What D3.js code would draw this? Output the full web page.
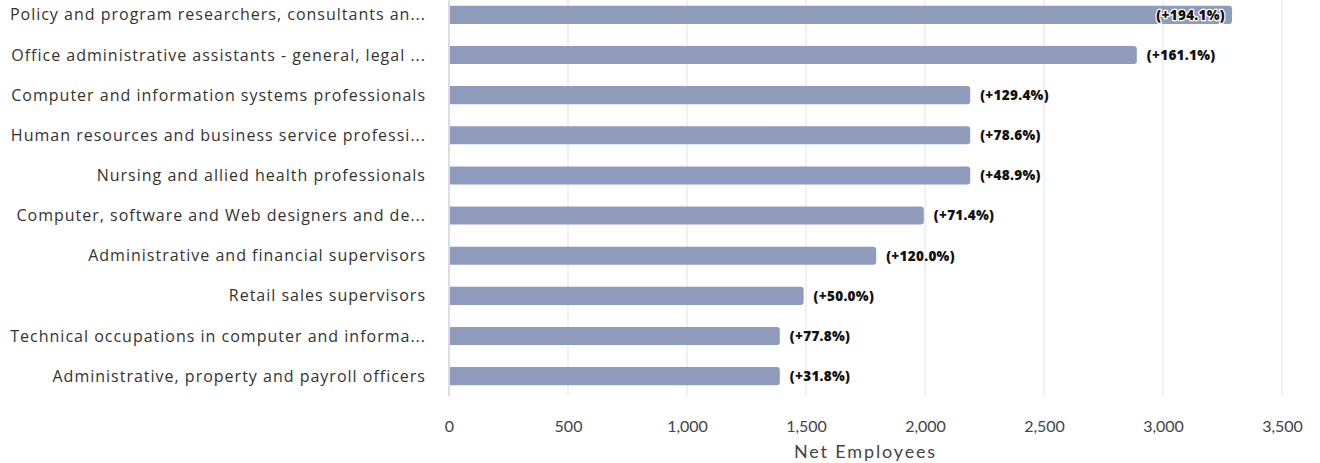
<!DOCTYPE html>
<html><head><meta charset="utf-8">
<script src="https://cdn.jsdelivr.net/npm/d3@7"></script>
<style>body{margin:0;background:#fff}svg{display:block}</style>
</head><body>
<svg id="c" width="1320" height="463"></svg>
<script>
const categories = [
  "Policy and program researchers, consultants an...",
  "Office administrative assistants - general, legal ...",
  "Computer and information systems professionals",
  "Human resources and business service professi...",
  "Nursing and allied health professionals",
  "Computer, software and Web designers and de...",
  "Administrative and financial supervisors",
  "Retail sales supervisors",
  "Technical occupations in computer and informa...",
  "Administrative, property and payroll officers"
];
const values = [3290, 2890, 2190, 2190, 2190, 1995, 1795, 1490, 1390, 1390];
const pctLabels = ["(+194.1%)","(+161.1%)","(+129.4%)","(+78.6%)","(+48.9%)","(+71.4%)","(+120.0%)","(+50.0%)","(+77.8%)","(+31.8%)"];
const tickValues = [0, 500, 1000, 1500, 2000, 2500, 3000, 3500];
const axisTitle = "Net Employees";

const svg = d3.select("#c");
const x = d3.scaleLinear().domain([0, 3500]).range([449, 1282]);
const y = d3.scaleBand().domain(categories).range([-5, 396]).paddingInner(0.55).paddingOuter(0.27);

// gridlines
svg.append("g").selectAll("line").data(tickValues).join("line")
  .attr("x1", d => x(d)).attr("x2", d => x(d))
  .attr("y1", 0).attr("y2", 396)
  .attr("stroke", d => d === 0 ? "#dedbe8" : "#e8e8e8")
  .attr("stroke-width", d => d === 0 ? 2 : 1.2);

// bars with rounded right end
const r = 3;
svg.append("g").selectAll("path").data(values).join("path")
  .attr("d", (d, i) => {
    const x0 = x(0) + 1, x1 = x(d), y0 = y(categories[i]), h = y.bandwidth();
    return `M${x0},${y0}H${x1 - r}Q${x1},${y0} ${x1},${y0 + r}V${y0 + h - r}Q${x1},${y0 + h} ${x1 - r},${y0 + h}H${x0}Z`;
  })
  .attr("fill", "#8f9cbb");

// category labels
const cl = svg.append("g").selectAll("text").data(categories).join("text")
  .attr("x", 426).attr("y", d => y(d) + y.bandwidth() / 2)
  .attr("dy", "0.35em").attr("text-anchor", "end")
  .attr("font-family", "'Open Sans', sans-serif").attr("font-size", 16)
  .attr("fill", "#333").text(d => d);
const w0 = cl.node().getComputedTextLength();
const ls = Math.max(0, (416 - w0) / categories[0].length);
cl.attr("letter-spacing", ls.toFixed(2));

// value labels
svg.append("g").selectAll("text").data(values).join("text")
  .attr("y", (d, i) => y(categories[i]) + y.bandwidth() / 2)
  .attr("dy", "0.36em")
  .attr("font-family", "'Open Sans', sans-serif").attr("font-weight", 800)
  .attr("font-size", 13.5).attr("letter-spacing", 0.3).attr("fill", "#111")
  .attr("x", (d, i) => i === 0 ? x(d) - 7 : x(d) + 10)
  .attr("text-anchor", (d, i) => i === 0 ? "end" : "start")
  .attr("paint-order", "stroke").attr("stroke", (d, i) => i === 0 ? "#fff" : "none")
  .attr("stroke-width", 2.5).attr("stroke-linejoin", "round")
  .text((d, i) => pctLabels[i]);

// x axis tick labels
const axis = d3.axisBottom(x).tickValues(tickValues).tickSize(0).tickPadding(0).tickFormat(d3.format(","));
const ag = svg.append("g").attr("transform", "translate(0,421)").call(axis);
ag.select(".domain").remove();
ag.selectAll("text").attr("font-family", "Lato, sans-serif").attr("font-size", 16)
  .attr("fill", "#444");

const t = svg.append("text").attr("x", x(1750)).attr("y", 458).attr("text-anchor", "middle")
  .attr("font-family", "Lato, sans-serif").attr("font-size", 18).attr("fill", "#444")
  .text(axisTitle);
const tw = t.node().getComputedTextLength();
t.attr("letter-spacing", Math.max(0, (143 - tw) / axisTitle.length).toFixed(2));
</script>
</body></html>
